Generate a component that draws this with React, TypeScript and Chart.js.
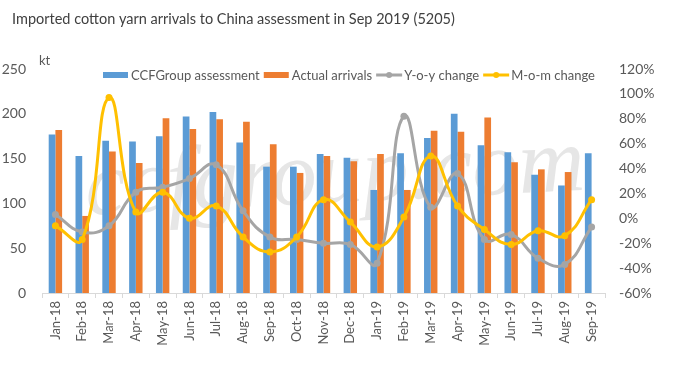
import React, { useEffect, useRef } from "react";
import { Chart, registerables } from "chart.js";

Chart.register(...registerables);

const titleText = "Imported cotton yarn arrivals to China assessment in Sep 2019 (5205)";
const unitLabel = "kt";
const watermarkText = "ccfgroup.com";

const months = [
  "Jan-18", "Feb-18", "Mar-18", "Apr-18", "May-18", "Jun-18", "Jul-18",
  "Aug-18", "Sep-18", "Oct-18", "Nov-18", "Dec-18", "Jan-19", "Feb-19",
  "Mar-19", "Apr-19", "May-19", "Jun-19", "Jul-19", "Aug-19", "Sep-19",
];
const ccfAssessment = [177, 153, 170, 169, 175, 197, 202, 168, 141, 141, 155, 151, 115, 156, 173, 200, 165, 157, 132, 120, 156];
const actualArrivals = [182, 86, 158, 145, 195, 183, 194, 191, 166, 134, 153, 147, 155, 115, 181, 180, 196, 146, 138, 135, null];
const yoyChange = [3, -11, -6, 21, 25, 32, 43, 6, -15, -17, -20, -21, -36, 82, 9, 36, -17, -13, -32, -37, -7];
const momChange = [-6, -17, 97, 5, 21, 0, 10, -15, -27, -15, 15, -3, -23, 1, 50, 10, -9, -21, -10, -14, 15];

const leftMin = 0;
const leftMax = 250;
const leftStep = 50;
const rightMin = -60;
const rightMax = 120;
const rightStep = 20;

const seriesNames = ["CCFGroup assessment", "Actual arrivals", "Y-o-y change", "M-o-m change"];
const colors = ["#5B9BD5", "#ED7D31", "#A5A5A5", "#FFC000"];
const FONT = "Lato, 'Open Sans', sans-serif";
const TEXT = "#595959";

const overlayPlugin = {
  id: "overlay",
  beforeDatasetsDraw(chart: any) {
    const ctx = chart.ctx;
    ctx.save();
    ctx.translate(335, 178);
    ctx.rotate(-0.05);
    ctx.font = `italic 92px 'Liberation Serif', serif`;
    ctx.fillStyle = "rgba(205,205,205,0.5)";
    ctx.textAlign = "center";
    ctx.textBaseline = "middle";
    ctx.fillText(watermarkText, 0, 0);
    ctx.restore();
  },
  afterDraw(chart: any) {
    const ctx = chart.ctx;
    ctx.save();
    ctx.fillStyle = "#404040";
    ctx.font = `14.5px ${FONT}`;
    ctx.textBaseline = "middle";
    ctx.textAlign = "left";
    ctx.fillText(titleText, 12, 19);
    ctx.fillStyle = TEXT;
    ctx.font = `13px ${FONT}`;
    ctx.fillText(unitLabel, 39, 61);
    const y = 75;
    let x = 103;
    ctx.font = `13px ${FONT}`;
    seriesNames.forEach((name, i) => {
      if (i < 2) {
        ctx.fillStyle = colors[i];
        ctx.fillRect(x, y - 3, 25, 6);
      } else {
        ctx.strokeStyle = colors[i];
        ctx.lineWidth = 3;
        ctx.beginPath();
        ctx.moveTo(x, y);
        ctx.lineTo(x + 26, y);
        ctx.stroke();
        ctx.fillStyle = colors[i];
        ctx.beginPath();
        ctx.arc(x + 13, y, 3, 0, Math.PI * 2);
        ctx.fill();
      }
      x += 28;
      ctx.fillStyle = TEXT;
      ctx.fillText(name, x, y + 1);
      x += ctx.measureText(name).width + 4;
    });
    ctx.restore();
  },
};

export default function App() {
  const ref = useRef<HTMLCanvasElement | null>(null);
  useEffect(() => {
    if (!ref.current) return;
    const chart = new Chart(ref.current, {
      type: "bar",
      data: {
        labels: months,
        datasets: [
          {
            type: "bar",
            label: seriesNames[0],
            data: ccfAssessment,
            backgroundColor: colors[0],
            yAxisID: "y",
            order: 2,
            categoryPercentage: 0.5,
            barPercentage: 1,
          },
          {
            type: "bar",
            label: seriesNames[1],
            data: actualArrivals,
            backgroundColor: colors[1],
            yAxisID: "y",
            order: 3,
            categoryPercentage: 0.5,
            barPercentage: 1,
          },
          {
            type: "line",
            label: seriesNames[2],
            data: yoyChange,
            borderColor: colors[2],
            backgroundColor: colors[2],
            borderWidth: 3,
            pointRadius: 3.5,
            pointBorderWidth: 0,
            tension: 0.45,
            yAxisID: "y1",
            order: 1,
          },
          {
            type: "line",
            label: seriesNames[3],
            data: momChange,
            borderColor: colors[3],
            backgroundColor: colors[3],
            borderWidth: 3,
            pointRadius: 3.5,
            pointBorderWidth: 0,
            tension: 0.45,
            yAxisID: "y1",
            order: 0,
          },
        ] as any,
      },
      options: {
        animation: false,
        responsive: true,
        maintainAspectRatio: false,
        layout: { padding: { top: 69, left: 0, right: 0, bottom: 0 } },
        plugins: {
          legend: { display: false },
          title: { display: false },
          tooltip: { enabled: false },
        },
        scales: {
          x: {
            grid: {
              offset: true,
              drawOnChartArea: false,
              drawTicks: true,
              tickLength: 5,
              color: "#D9D9D9",
            },
            border: { color: "#D9D9D9" },
            ticks: {
              color: TEXT,
              font: { family: FONT, size: 13 },
              minRotation: 90,
              maxRotation: 90,
              autoSkip: false,
              padding: 3,
            },
            afterFit: (s: any) => {
              s.height = 375 - 293;
            },
          },
          y: {
            position: "left",
            min: leftMin,
            max: leftMax,
            grid: { display: false, drawTicks: false },
            border: { display: false },
            ticks: {
              stepSize: leftStep,
              color: TEXT,
              font: { family: FONT, size: 14 },
              padding: 16,
            },
            afterFit: (s: any) => {
              s.width = 42;
            },
          },
          y1: {
            position: "right",
            min: rightMin,
            max: rightMax,
            grid: { display: false, drawTicks: false },
            border: { display: false },
            ticks: {
              stepSize: rightStep,
              color: TEXT,
              font: { family: FONT, size: 14 },
              padding: 14,
              callback: (v: any) => `${v}%`,
            },
            afterFit: (s: any) => {
              s.width = 673 - 605;
            },
          },
        },
      },
      plugins: [overlayPlugin],
    });
    return () => chart.destroy();
  }, []);
  return (
    <div style={{ position: "absolute", left: 0, top: 0, width: 673, height: 375, background: "#fff" }}>
      <canvas ref={ref} />
    </div>
  );
}
